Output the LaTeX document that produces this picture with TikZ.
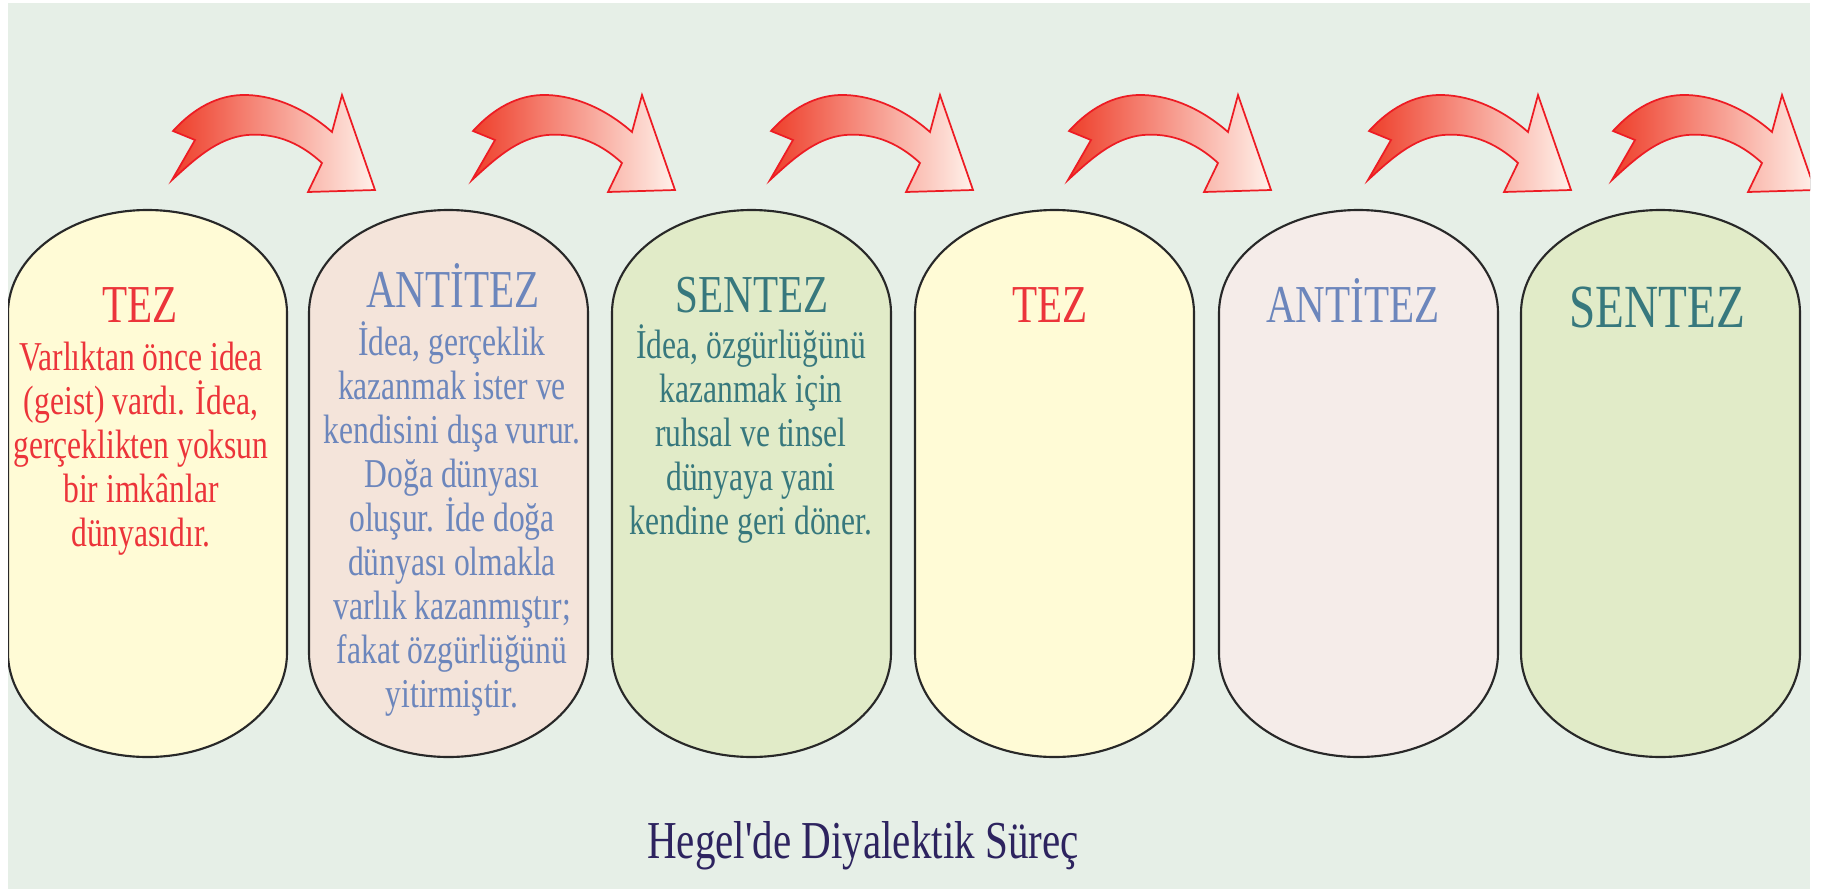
\documentclass[tikz,border=0pt]{standalone}
\usepackage{fontspec}
\newfontfamily\hegelfont[FakeStretch=0.77]{Liberation Serif}

\tikzset{every picture/.style={line width=0.75pt}}
\tikzset{
  stagebox/.style={draw={rgb, 255:red, 40; green, 40; blue, 40}, line width=1.6pt},
  tezfill/.style={fill={rgb, 255:red, 255; green, 251; blue, 214}},
  antifill/.style={fill={rgb, 255:red, 244; green, 228; blue, 218}},
  antifilltwo/.style={fill={rgb, 255:red, 245; green, 236; blue, 233}},
  senfill/.style={fill={rgb, 255:red, 225; green, 235; blue, 200}},
  titletext/.style={anchor=base, inner sep=0pt, font=\hegelfont\fontsize{40}{40}\selectfont},
  bodytext/.style={anchor=north, align=center, inner sep=0pt, font=\hegelfont\fontsize{30.75}{33}\selectfont},
  tezcolor/.style={text={rgb, 255:red, 236; green, 52; blue, 58}},
  anticolor/.style={text={rgb, 255:red, 108; green, 134; blue, 188}},
  sencolor/.style={text={rgb, 255:red, 55; green, 120; blue, 125}},
  arrowshade/.style={draw={rgb, 255:red, 237; green, 28; blue, 36}, line width=1.3pt, line join=miter,
    left color={rgb, 255:red, 238; green, 62; blue, 42}, right color={rgb, 255:red, 255; green, 242; blue, 235}},
  bendarrow/.pic={
    \filldraw [arrowshade]
      (0,0) -- (23,40) -- (1,49)
      .. controls (20,70) and (45,86) .. (75,85)
      .. controls (105,84) and (135,70) .. (160,48)
      -- (170,85) -- (203,-10) -- (136,-12) -- (150,17)
      .. controls (125,40) and (100,47) .. (75,45)
      .. controls (45,42) and (22,20) .. (0,0) -- cycle;
  }
}

\begin{document}
\begin{tikzpicture}[x=0.75pt, y=0.75pt, yscale=-1,xscale=1]

  \fill [white] (0,0) rectangle (1821,889);
  \useasboundingbox (0,0) rectangle (1821,889);
  \fill [fill={rgb, 255:red, 230; green, 239; blue, 231}] (8,3) rectangle (1810,889);

  \begin{scope}
    \clip (8,3) rectangle (1810,889);

    % stage boxes
    \draw [stagebox, tezfill] (8,313) -- (8,653) arc[start angle=180, end angle=0, x radius=139.5, y radius=104]
          -- (287,313) arc[start angle=0, end angle=-180, x radius=139.5, y radius=103] -- cycle;
    \draw [stagebox, antifill] (309,313) -- (309,653) arc[start angle=180, end angle=0, x radius=139.5, y radius=104]
          -- (588,313) arc[start angle=0, end angle=-180, x radius=139.5, y radius=103] -- cycle;
    \draw [stagebox, senfill] (612,313) -- (612,653) arc[start angle=180, end angle=0, x radius=139.5, y radius=104]
          -- (891,313) arc[start angle=0, end angle=-180, x radius=139.5, y radius=103] -- cycle;
    \draw [stagebox, tezfill] (915,313) -- (915,653) arc[start angle=180, end angle=0, x radius=139.5, y radius=104]
          -- (1194,313) arc[start angle=0, end angle=-180, x radius=139.5, y radius=103] -- cycle;
    \draw [stagebox, antifilltwo] (1219,313) -- (1219,653) arc[start angle=180, end angle=0, x radius=139.5, y radius=104]
          -- (1498,313) arc[start angle=0, end angle=-180, x radius=139.5, y radius=103] -- cycle;
    \draw [stagebox, senfill] (1521,313) -- (1521,653) arc[start angle=180, end angle=0, x radius=139.5, y radius=104]
          -- (1800,313) arc[start angle=0, end angle=-180, x radius=139.5, y radius=103] -- cycle;

    % arrows
    \pic at (172,180) {bendarrow};
    \pic at (472,180) {bendarrow};
    \pic at (770,180) {bendarrow};
    \pic at (1068,180) {bendarrow};
    \pic at (1368,180) {bendarrow};
    \pic at (1612,180) {bendarrow};
  \end{scope}

  % titles
  \node [titletext, tezcolor] (tez1) at (140,322) {TEZ};
  \node [titletext, anticolor] (antitez1) at (453,307) {ANTİTEZ};
  \node [titletext, sencolor] (sentez1) at (752,312) {SENTEZ};
  \node [titletext, tezcolor] (tez2) at (1050,322) {TEZ};
  \node [titletext, anticolor] (antitez2) at (1353,322) {ANTİTEZ};
  \node [titletext, sencolor, font=\hegelfont\fontsize{46}{46}\selectfont] (sentez2) at (1657,327) {SENTEZ};

  % texts
  \node [bodytext, tezcolor] (tezbody) at (141,330)
        {\rule{0pt}{30pt}Varlıktan önce idea\\(geist) vardı. İdea,\\gerçeklikten yoksun\\bir imkânlar\\dünyasıdır.};
  \node [bodytext, anticolor] (antitezbody) at (452,315)
        {\rule{0pt}{30pt}İdea, gerçeklik\\kazanmak ister ve\\kendisini dışa vurur.\\Doğa dünyası\\oluşur. İde doğa\\dünyası olmakla\\varlık kazanmıştır;\\fakat özgürlüğünü\\yitirmiştir.};
  \node [bodytext, sencolor] (sentezbody) at (751,318)
        {\rule{0pt}{30pt}İdea, özgürlüğünü\\kazanmak için\\ruhsal ve tinsel\\dünyaya yani\\kendine geri döner.};

  \node [titletext, text={rgb, 255:red, 45; green, 35; blue, 95}] (caption) at (863,858) {Hegel'de Diyalektik Süreç};

\end{tikzpicture}
\end{document}
